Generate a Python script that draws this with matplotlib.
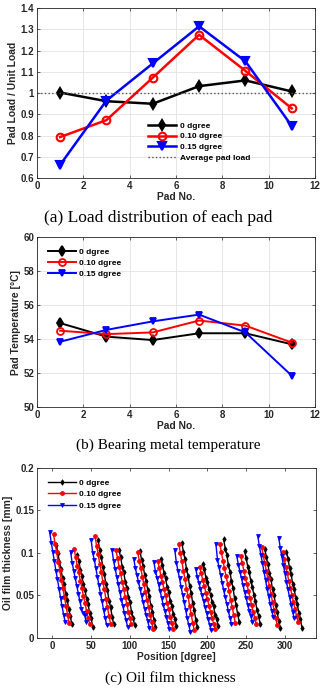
import matplotlib
matplotlib.use("Agg")
import matplotlib.pyplot as plt
import numpy as np

plt.rcParams['font.family'] = ['Liberation Sans', 'DejaVu Sans']
plt.rcParams['font.weight'] = 'bold'

# ---- (a) load distribution ----
pad_no = [1, 3, 5, 7, 9, 11]
load_0 = [1.003, 0.962, 0.950, 1.033, 1.060, 1.008]
load_010 = [0.793, 0.873, 1.073, 1.275, 1.105, 0.928]
load_015 = [0.662, 0.965, 1.140, 1.315, 1.150, 0.845]
avg_load = 1.0

# ---- (b) bearing metal temperature ----
temp_0 = [54.95, 54.15, 53.95, 54.35, 54.35, 53.70]
temp_010 = [54.50, 54.30, 54.40, 55.10, 54.80, 53.80]
temp_015 = [53.85, 54.55, 55.05, 55.45, 54.40, 51.85]

# ---- (c) oil film thickness ----
# measuring point offsets inside one pad [deg]
point_offsets = [0, 2, 4, 6, 8, 10, 12, 14, 16, 18, 20]
start_0 = [5, 32, 59, 86, 113, 140, 167, 194, 221, 248, 274, 302]
start_010 = [1.5, 28, 55, 82, 110, 136, 163, 190, 216, 243, 270, 297]
start_015 = [-3.5, 23.5, 50, 77, 105, 131, 158, 185, 211, 238, 265, 292]

film_0 = [
    [0.109, 0.100, 0.089, 0.081, 0.070, 0.063, 0.052, 0.045, 0.034, 0.026, 0.016],
    [0.098, 0.091, 0.080, 0.073, 0.063, 0.056, 0.046, 0.040, 0.029, 0.023, 0.013],
    [0.115, 0.103, 0.095, 0.084, 0.075, 0.063, 0.056, 0.044, 0.036, 0.025, 0.016],
    [0.103, 0.095, 0.084, 0.077, 0.066, 0.059, 0.048, 0.042, 0.031, 0.024, 0.015],
    [0.102, 0.092, 0.085, 0.074, 0.067, 0.056, 0.049, 0.038, 0.031, 0.021, 0.013],
    [0.093, 0.086, 0.076, 0.070, 0.060, 0.054, 0.044, 0.038, 0.028, 0.022, 0.014],
    [0.112, 0.101, 0.093, 0.081, 0.073, 0.061, 0.053, 0.041, 0.033, 0.021, 0.013],
    [0.087, 0.081, 0.071, 0.066, 0.057, 0.051, 0.042, 0.037, 0.027, 0.022, 0.014],
    [0.116, 0.105, 0.098, 0.086, 0.078, 0.067, 0.059, 0.047, 0.039, 0.028, 0.019],
    [0.102, 0.094, 0.084, 0.077, 0.067, 0.060, 0.050, 0.043, 0.033, 0.026, 0.017],
    [0.105, 0.095, 0.087, 0.076, 0.069, 0.057, 0.050, 0.039, 0.031, 0.020, 0.012],
    [0.101, 0.093, 0.082, 0.075, 0.064, 0.057, 0.047, 0.040, 0.029, 0.022, 0.012],
]
film_010 = [
    [0.122, 0.110, 0.101, 0.089, 0.080, 0.068, 0.059, 0.048, 0.038, 0.027, 0.018],
    [0.104, 0.095, 0.085, 0.077, 0.067, 0.059, 0.049, 0.041, 0.032, 0.024, 0.017],
    [0.120, 0.108, 0.099, 0.087, 0.078, 0.066, 0.057, 0.046, 0.036, 0.026, 0.017],
    [0.103, 0.094, 0.084, 0.076, 0.066, 0.058, 0.048, 0.040, 0.031, 0.023, 0.016],
    [0.101, 0.091, 0.082, 0.072, 0.063, 0.054, 0.045, 0.036, 0.027, 0.019, 0.011],
    [0.090, 0.082, 0.073, 0.066, 0.057, 0.050, 0.041, 0.034, 0.025, 0.018, 0.010],
    [0.111, 0.100, 0.090, 0.079, 0.069, 0.058, 0.049, 0.038, 0.028, 0.018, 0.009],
    [0.083, 0.076, 0.068, 0.061, 0.053, 0.046, 0.038, 0.031, 0.023, 0.017, 0.010],
    [0.110, 0.101, 0.091, 0.082, 0.073, 0.064, 0.055, 0.045, 0.036, 0.027, 0.018],
    [0.096, 0.088, 0.079, 0.071, 0.063, 0.055, 0.047, 0.039, 0.031, 0.024, 0.016],
    [0.107, 0.097, 0.088, 0.079, 0.070, 0.061, 0.052, 0.042, 0.033, 0.024, 0.015],
    [0.101, 0.093, 0.084, 0.076, 0.067, 0.059, 0.051, 0.042, 0.034, 0.026, 0.019],
]
film_015 = [
    [0.124, 0.112, 0.101, 0.090, 0.079, 0.069, 0.058, 0.047, 0.037, 0.027, 0.019],
    [0.101, 0.088, 0.079, 0.070, 0.061, 0.052, 0.043, 0.034, 0.029, 0.027, 0.019],
    [0.115, 0.100, 0.092, 0.082, 0.072, 0.062, 0.052, 0.043, 0.033, 0.024, 0.015],
    [0.103, 0.090, 0.081, 0.072, 0.063, 0.054, 0.045, 0.037, 0.029, 0.021, 0.013],
    [0.093, 0.082, 0.074, 0.066, 0.058, 0.050, 0.042, 0.034, 0.027, 0.020, 0.012],
    [0.089, 0.078, 0.071, 0.063, 0.055, 0.047, 0.039, 0.032, 0.025, 0.018, 0.011],
    [0.103, 0.088, 0.079, 0.070, 0.060, 0.051, 0.042, 0.033, 0.023, 0.015, 0.007],
    [0.081, 0.072, 0.065, 0.058, 0.050, 0.043, 0.036, 0.029, 0.022, 0.015, 0.009],
    [0.110, 0.092, 0.083, 0.074, 0.065, 0.056, 0.048, 0.040, 0.032, 0.024, 0.017],
    [0.096, 0.086, 0.078, 0.070, 0.062, 0.054, 0.047, 0.039, 0.032, 0.026, 0.019],
    [0.120, 0.108, 0.098, 0.088, 0.078, 0.068, 0.058, 0.049, 0.040, 0.032, 0.025],
    [0.118, 0.106, 0.096, 0.086, 0.076, 0.066, 0.057, 0.048, 0.039, 0.031, 0.023],
]

labels = ['0 dgree', '0.10 dgree', '0.15 dgree']
colors = ['black', '#ff0000', '#0000ff']
markers = ['d', 'o', 'v']

TICK_FS = 7
LABEL_FS = 7.4
LEG_FS = 6
AX_COLOR = '#262626'


def style_axes(ax, grid=True):
    for s in ax.spines.values():
        s.set_color(AX_COLOR)
        s.set_linewidth(0.6)
    ax.tick_params(direction='in', length=2.5, width=0.5, labelsize=TICK_FS,
                   colors=AX_COLOR, top=True, right=True, pad=2)
    for lab in ax.get_xticklabels() + ax.get_yticklabels():
        lab.set_fontweight('bold')
    if grid:
        ax.grid(True, color='#e3e3e3', linewidth=0.6)
        ax.set_axisbelow(True)


fig = plt.figure(figsize=(3.24, 6.90), dpi=100)

# ---------- panel (a) ----------
ax1 = fig.add_axes([0.114, 0.742, 0.858, 0.246])
series_a = [load_0, load_010, load_015]
for vals, lab, c, m in zip(series_a, labels, colors, markers):
    mfc = 'none' if m == 'o' else c
    ax1.plot(pad_no, vals, color=c, marker=m, lw=1.8, ms=5.5,
             mfc=mfc, mew=1.5, label=lab)
ax1.plot([0, 12], [avg_load, avg_load], color='#555555', ls=':', lw=1.0,
         label='Average pad load')
ax1.set_xlim(0, 12)
ax1.set_ylim(0.6, 1.4)
ax1.set_xticks(np.arange(0, 13, 2))
ax1.set_yticks(np.arange(0.6, 1.41, 0.1))
ax1.set_yticklabels(['0.6', '0.7', '0.8', '0.9', '1', '1.1', '1.2', '1.3', '1.4'])
ax1.set_xlabel('Pad No.', fontsize=LABEL_FS, fontweight='bold', color=AX_COLOR, labelpad=1)
ax1.set_ylabel('Pad Load / Unit Load', fontsize=LABEL_FS, fontweight='bold', color=AX_COLOR, labelpad=2)
style_axes(ax1)
ax1.legend(loc='upper left', bbox_to_anchor=(0.38, 0.365), frameon=False,
           handlelength=3.3, labelspacing=0.35, borderpad=0.2,
           handletextpad=0.5, prop={'weight': 'bold', 'size': LEG_FS})

# ---------- panel (b) ----------
ax2 = fig.add_axes([0.114, 0.410, 0.858, 0.246])
series_b = [temp_0, temp_010, temp_015]
for vals, lab, c, m in zip(series_b, labels, colors, markers):
    mfc = 'none' if m == 'o' else c
    ax2.plot(pad_no, vals, color=c, marker=m, lw=1.4, ms=5,
             mfc=mfc, mew=1.3, label=lab)
ax2.set_xlim(0, 12)
ax2.set_ylim(50, 60)
ax2.set_xticks(np.arange(0, 13, 2))
ax2.set_yticks(np.arange(50, 61, 2))
ax2.set_xlabel('Pad No.', fontsize=LABEL_FS, fontweight='bold', color=AX_COLOR, labelpad=1)
ax2.set_ylabel('Pad Temperature [°C]', fontsize=LABEL_FS, fontweight='bold', color=AX_COLOR, labelpad=2)
style_axes(ax2)
ax2.legend(loc='upper left', bbox_to_anchor=(0.02, 0.97), frameon=False,
           handlelength=3.3, labelspacing=0.35, borderpad=0.2, handletextpad=0.4,
           prop={'weight': 'bold', 'size': LEG_FS})

# ---------- panel (c) ----------
ax3 = fig.add_axes([0.114, 0.0754, 0.861, 0.2466])
series_c = [(start_0, film_0), (start_010, film_010), (start_015, film_015)]
for (starts, films), lab, c, m in zip(series_c, labels, colors, markers):
    for i, (s, f) in enumerate(zip(starts, films)):
        pos = [s + o for o in point_offsets]
        ax3.plot(pos, f, color=c, marker=m, lw=1.0, ms=2.8, mew=0.6,
                 label=lab if i == 0 else None)
ax3.set_xlim(-20, 340)
ax3.set_ylim(0, 0.2)
ax3.set_xticks(np.arange(0, 301, 50))
ax3.set_yticks([0, 0.05, 0.1, 0.15, 0.2])
ax3.set_yticklabels(['0', '0.05', '0.1', '0.15', '0.2'])
ax3.set_xlabel('Position [dgree]', fontsize=LABEL_FS, fontweight='bold', color=AX_COLOR, labelpad=1)
ax3.set_ylabel('Oil film thickness [mm]', fontsize=LABEL_FS, fontweight='bold', color=AX_COLOR, labelpad=2)
style_axes(ax3, grid=False)
ax3.legend(loc='upper left', bbox_to_anchor=(0.02, 0.97), frameon=False,
           handlelength=3.3, labelspacing=0.45, borderpad=0.2, handletextpad=0.4,
           prop={'weight': 'bold', 'size': LEG_FS})

# ---------- captions ----------
serif = ['Liberation Serif', 'DejaVu Serif']
fig.text(0.487, 0.684, '(a) Load distribution of each pad', ha='center', va='center',
         family=serif, size=12.5, weight='normal')
fig.text(0.52, 0.355, '(b) Bearing metal temperature', ha='center', va='center',
         family=serif, size=11, weight='normal')
fig.text(0.525, 0.017, '(c) Oil film thickness', ha='center', va='center',
         family=serif, size=11, weight='normal')

fig.savefig('out.png', dpi=100)
